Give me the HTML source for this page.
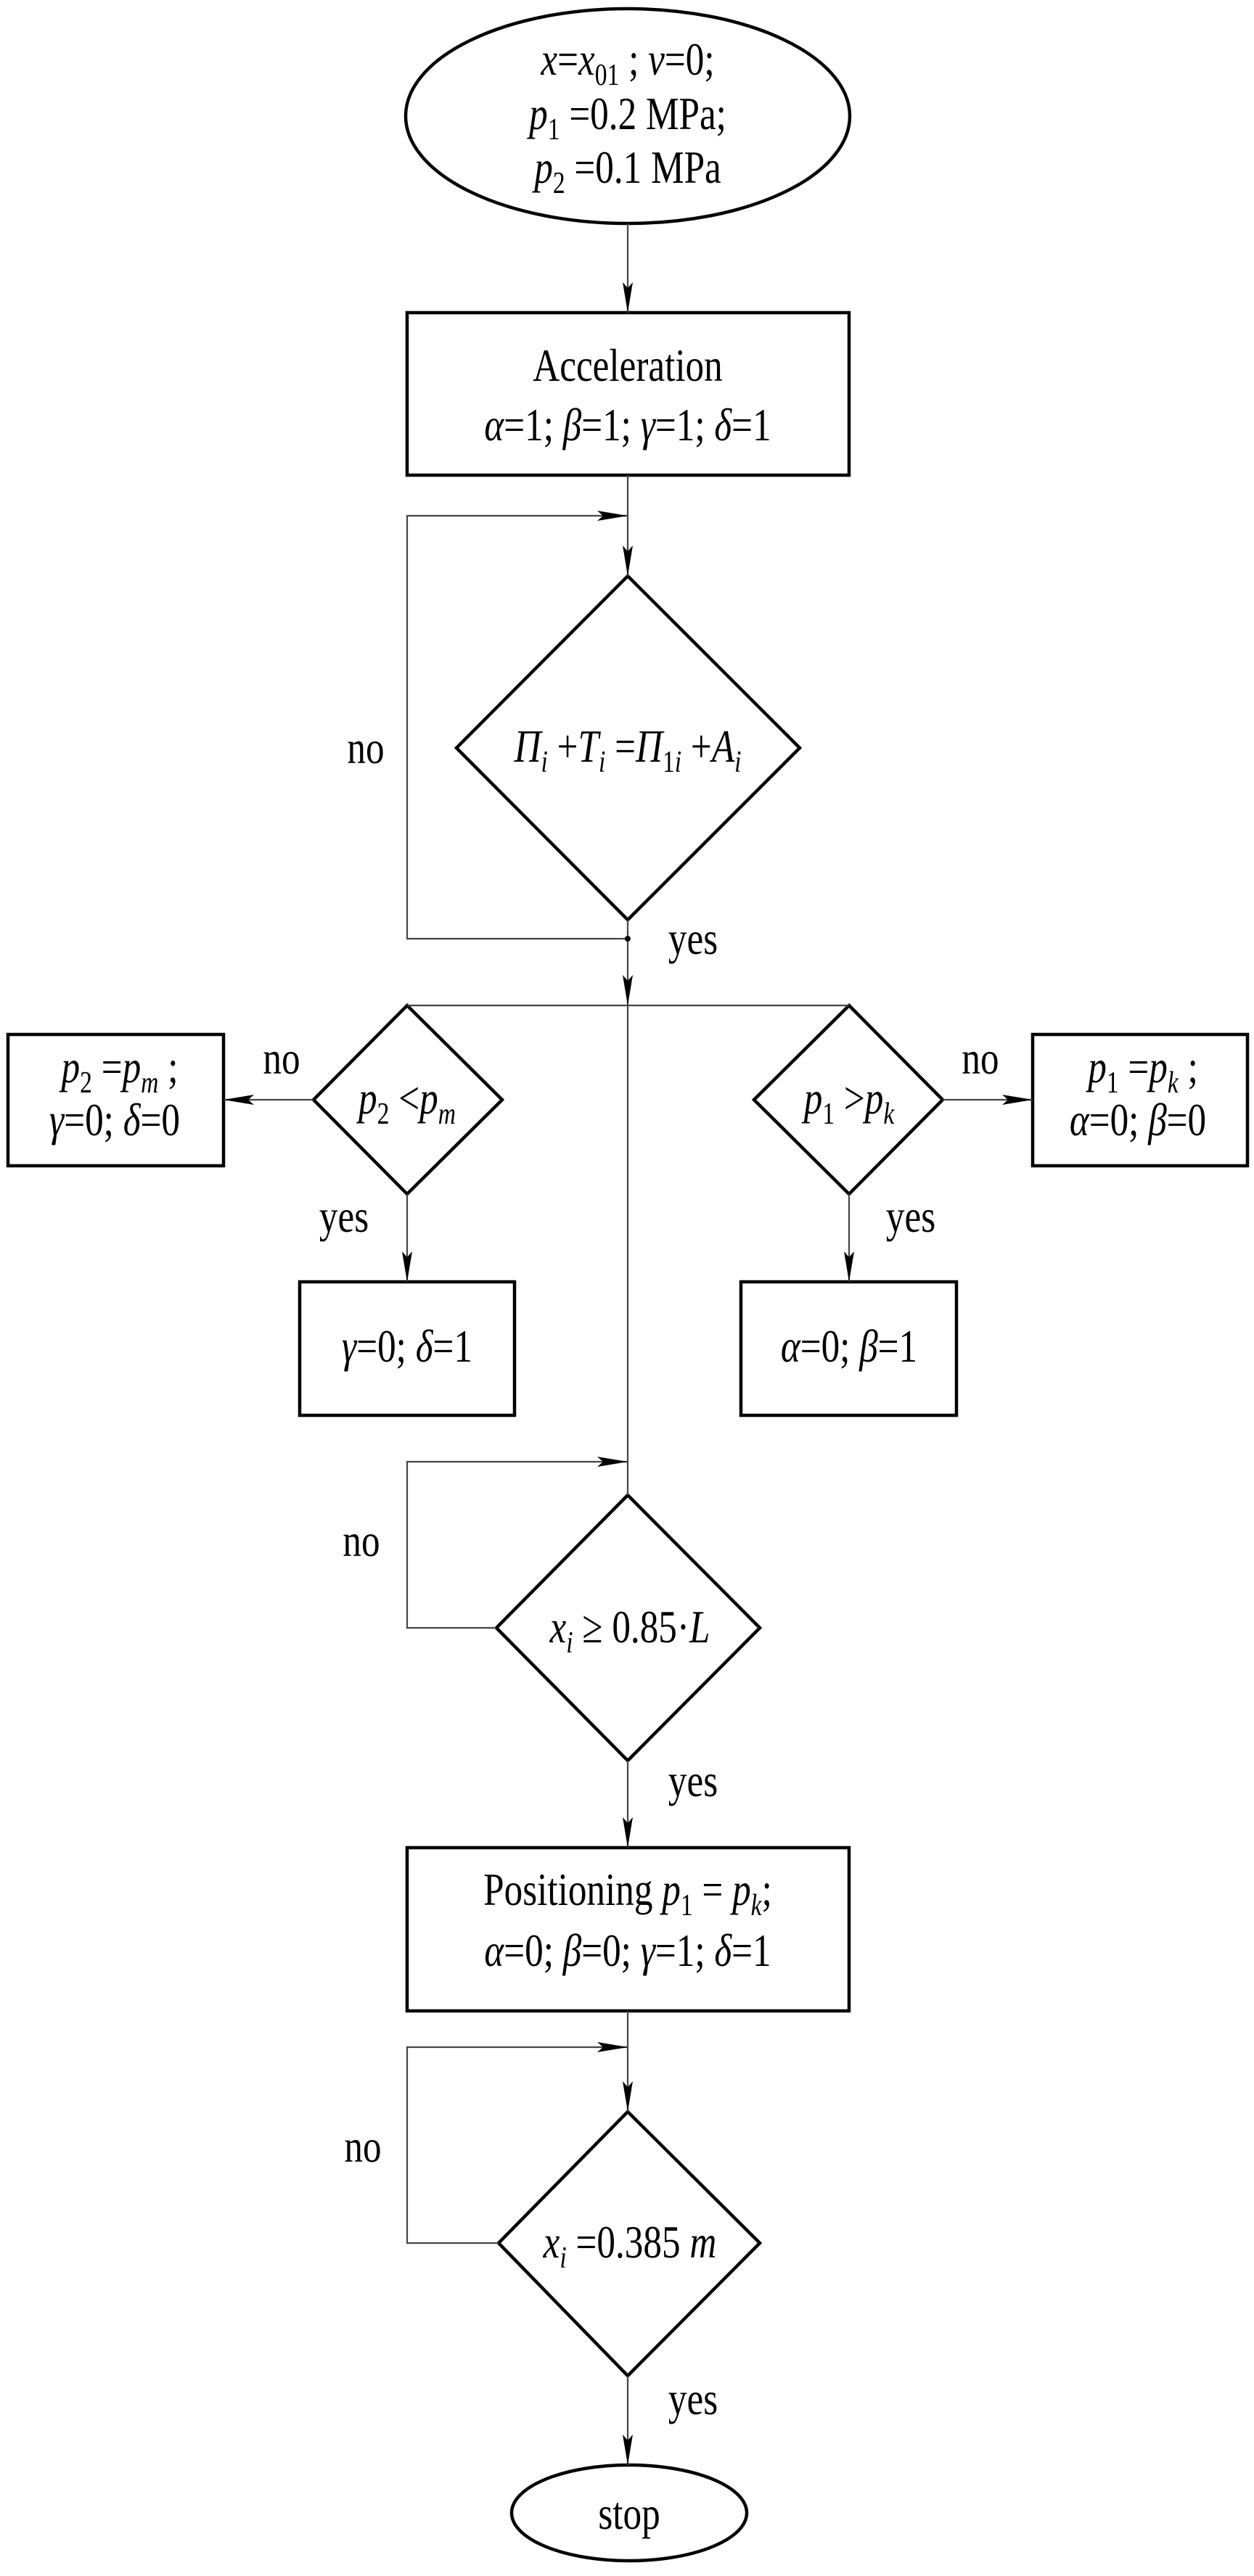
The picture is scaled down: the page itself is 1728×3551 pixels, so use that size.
<!DOCTYPE html>
<html><head><meta charset="utf-8"><style>
html,body{margin:0;padding:0;background:#fff}
svg{display:block}
text{font-family:"Liberation Serif",serif;font-size:64px;fill:#000}
.i{font-style:italic}
</style></head><body>
<svg width="1728" height="3551" viewBox="0 0 1728 3551" xmlns="http://www.w3.org/2000/svg">
<defs>
<marker id="a" markerUnits="userSpaceOnUse" markerWidth="44" markerHeight="16" refX="42" refY="8" orient="auto">
<path d="M0,1 L42,8 L0,15 L8,8 z" fill="#000"/>
</marker>
</defs>
<g fill="none" stroke="#000" stroke-width="4.5">
<ellipse cx="865" cy="160" rx="306" ry="148"/>
<rect x="561" y="431" width="609" height="224"/>
<polygon points="865,794 1102,1031 865,1268 629,1031"/>
<polygon points="561,1386 692,1516 561,1646 432,1516"/>
<rect x="11" y="1426" width="297" height="181"/>
<rect x="413" y="1767" width="296" height="184"/>
<polygon points="1170,1386 1299,1516 1170,1646 1039,1516"/>
<rect x="1423" y="1426" width="296" height="181"/>
<rect x="1021" y="1767" width="297" height="184"/>
<polygon points="865,2061 1047,2244 865,2427 684,2244"/>
<rect x="561" y="2547" width="609" height="225"/>
<polygon points="865,2911 1047,3092 865,3275 687,3092"/>
<ellipse cx="867" cy="3464" rx="162" ry="66"/>
</g>
<g fill="none" stroke="#444" stroke-width="2.2">
<line x1="865" y1="308" x2="865" y2="431" marker-end="url(#a)"/>
<line x1="865" y1="655" x2="865" y2="794" marker-end="url(#a)"/>
<polyline points="865,1294 561,1294 561,711 865,711" marker-end="url(#a)"/>
<line x1="865" y1="1268" x2="865" y2="1386" marker-end="url(#a)"/>
<line x1="561" y1="1386" x2="1170" y2="1386"/>
<line x1="865" y1="1386" x2="865" y2="2061"/>
<line x1="432" y1="1516" x2="308" y2="1516" marker-end="url(#a)"/>
<line x1="561" y1="1646" x2="561" y2="1767" marker-end="url(#a)"/>
<line x1="1299" y1="1516" x2="1423" y2="1516" marker-end="url(#a)"/>
<line x1="1170" y1="1646" x2="1170" y2="1767" marker-end="url(#a)"/>
<polyline points="684,2244 561,2244 561,2015 865,2015" marker-end="url(#a)"/>
<line x1="865" y1="2427" x2="865" y2="2547" marker-end="url(#a)"/>
<line x1="865" y1="2772" x2="865" y2="2911" marker-end="url(#a)"/>
<polyline points="687,3092 561,3092 561,2822 865,2822" marker-end="url(#a)"/>
<line x1="865" y1="3275" x2="865" y2="3398" marker-end="url(#a)"/>
</g>
<circle cx="865" cy="1294" r="4" fill="#000"/>

<g text-anchor="middle">
<text transform="translate(865,103) scale(.8 1)"><tspan class="i">x</tspan>=<tspan class="i">x</tspan><tspan font-size="42" dy="14">01</tspan><tspan dy="-14"> ; </tspan><tspan class="i">v</tspan>=0;</text>
<text transform="translate(865,178) scale(.8 1)"><tspan class="i">p</tspan><tspan font-size="42" dy="14">1</tspan><tspan dy="-14"> =0.2 MPa;</tspan></text>
<text transform="translate(865,252) scale(.8 1)"><tspan class="i">p</tspan><tspan font-size="42" dy="14">2</tspan><tspan dy="-14"> =0.1 MPa</tspan></text>

<text transform="translate(865,525) scale(.8 1)">Acceleration</text>
<text transform="translate(865,607) scale(.8 1)"><tspan class="i">α</tspan>=1; <tspan class="i">β</tspan>=1; <tspan class="i">γ</tspan>=1; <tspan class="i">δ</tspan>=1</text>

<text transform="translate(865,1050) scale(.8 1)"><tspan class="i">Π</tspan><tspan class="i" font-size="42" dy="14">i</tspan><tspan dy="-14"> +</tspan><tspan class="i">T</tspan><tspan class="i" font-size="42" dy="14">i</tspan><tspan dy="-14"> =</tspan><tspan class="i">Π</tspan><tspan font-size="42" dy="14">1</tspan><tspan class="i" font-size="42">i</tspan><tspan dy="-14"> +</tspan><tspan class="i">A</tspan><tspan class="i" font-size="42" dy="14">i</tspan></text>

<text transform="translate(561,1535) scale(.8 1)"><tspan class="i">p</tspan><tspan font-size="42" dy="14">2</tspan><tspan dy="-14"> &lt;</tspan><tspan class="i">p</tspan><tspan class="i" font-size="42" dy="14">m</tspan></text>
<text transform="translate(165,1492) scale(.8 1)"><tspan class="i">p</tspan><tspan font-size="42" dy="14">2</tspan><tspan dy="-14"> =</tspan><tspan class="i">p</tspan><tspan class="i" font-size="42" dy="14">m</tspan><tspan dy="-14"> ;</tspan></text>
<text transform="translate(158,1565) scale(.8 1)"><tspan class="i">γ</tspan>=0; <tspan class="i">δ</tspan>=0</text>
<text transform="translate(561,1877) scale(.8 1)"><tspan class="i">γ</tspan>=0; <tspan class="i">δ</tspan>=1</text>

<text transform="translate(1170,1535) scale(.8 1)"><tspan class="i">p</tspan><tspan font-size="42" dy="14">1</tspan><tspan dy="-14"> &gt;</tspan><tspan class="i">p</tspan><tspan class="i" font-size="42" dy="14">k</tspan></text>
<text transform="translate(1575,1492) scale(.8 1)"><tspan class="i">p</tspan><tspan font-size="42" dy="14">1</tspan><tspan dy="-14"> =</tspan><tspan class="i">p</tspan><tspan class="i" font-size="42" dy="14">k</tspan><tspan dy="-14"> ;</tspan></text>
<text transform="translate(1568,1565) scale(.8 1)"><tspan class="i">α</tspan>=0; <tspan class="i">β</tspan>=0</text>
<text transform="translate(1170,1877) scale(.8 1)"><tspan class="i">α</tspan>=0; <tspan class="i">β</tspan>=1</text>

<text transform="translate(868,2264) scale(.8 1)"><tspan class="i">x</tspan><tspan class="i" font-size="42" dy="14">i</tspan><tspan dy="-14"> ≥ 0.85·</tspan><tspan class="i">L</tspan></text>

<text transform="translate(865,2626) scale(.8 1)">Positioning  <tspan class="i">p</tspan><tspan font-size="42" dy="14">1</tspan><tspan dy="-14"> = </tspan><tspan class="i">p</tspan><tspan class="i" font-size="42" dy="14">k</tspan><tspan dy="-14">;</tspan></text>
<text transform="translate(865,2710) scale(.8 1)"><tspan class="i">α</tspan>=0; <tspan class="i">β</tspan>=0; <tspan class="i">γ</tspan>=1; <tspan class="i">δ</tspan>=1</text>

<text transform="translate(868,3112) scale(.8 1)"><tspan class="i">x</tspan><tspan class="i" font-size="42" dy="14">i</tspan><tspan dy="-14"> =0.385 </tspan><tspan class="i">m</tspan></text>

<text transform="translate(867,3486) scale(.8 1)">stop</text>

<text transform="translate(504,1052) scale(.8 1)">no</text>
<text transform="translate(955,1315) scale(.8 1)">yes</text>
<text transform="translate(388,1480) scale(.8 1)">no</text>
<text transform="translate(474,1698) scale(.8 1)">yes</text>
<text transform="translate(1351,1480) scale(.8 1)">no</text>
<text transform="translate(1255,1698) scale(.8 1)">yes</text>
<text transform="translate(498,2145) scale(.8 1)">no</text>
<text transform="translate(955,2476) scale(.8 1)">yes</text>
<text transform="translate(500,2980) scale(.8 1)">no</text>
<text transform="translate(955,3328) scale(.8 1)">yes</text>
</g>
</svg>
</body></html>
